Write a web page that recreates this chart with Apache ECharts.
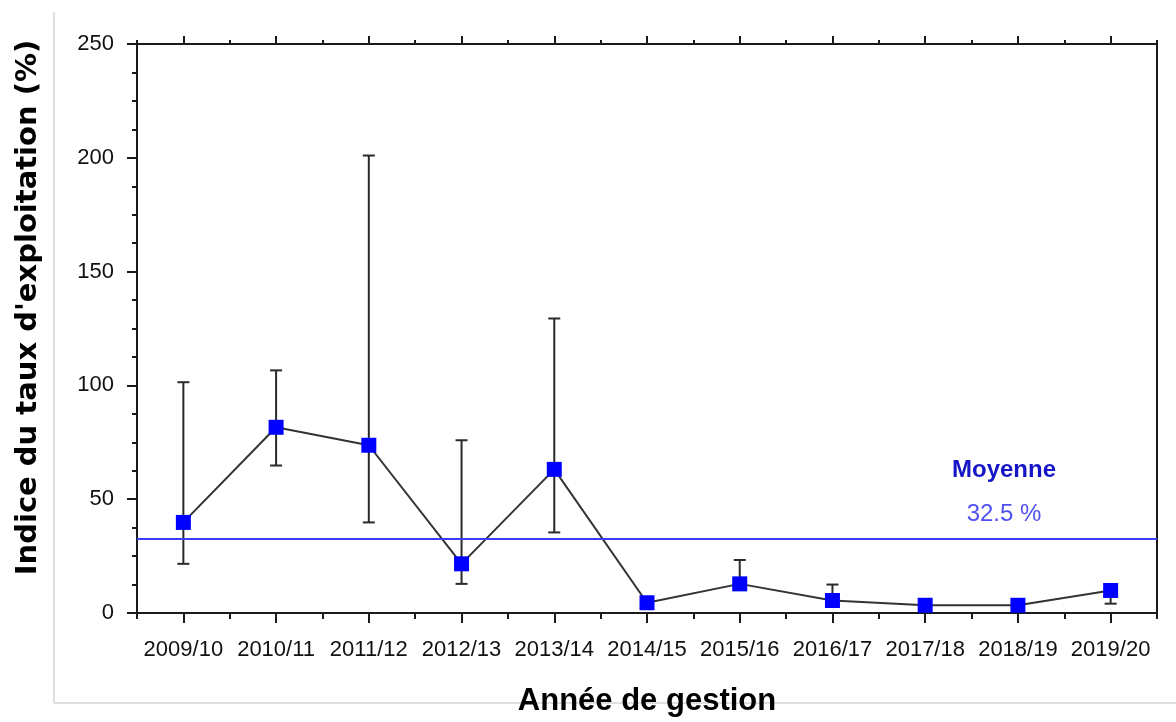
<!DOCTYPE html>
<html>
<head>
<meta charset="utf-8">
<script src="https://cdn.jsdelivr.net/npm/echarts@6/dist/echarts.min.js"></script>
<style>
  html, body { margin: 0; padding: 0; background: #ffffff; }
  #chart { width: 1176px; height: 722px; }
</style>
</head>
<body>
<div id="chart"></div>
<script>
// Management years
const years = ['2009/10', '2010/11', '2011/12', '2012/13', '2013/14', '2014/15',
               '2015/16', '2016/17', '2017/18', '2018/19', '2019/20'];
// Exploitation-rate index (%) per year
const indexValues = [39.8, 81.6, 73.7, 21.6, 63.1, 4.5, 12.8, 5.5, 3.4, 3.4, 9.9];
// Lower and upper bounds of the error bars (null = no bar drawn)
const lowerBound = [21.6, 64.8, 39.8, 12.8, 35.4, null, 10.5, 3.5, null, null, 4.1];
const upperBound = [101.4, 106.6, 201, 75.9, 129.4, null, 23.3, 12.5, null, null, 12.5];
// Mean over the whole period (%)
const meanValue = 32.5;
// Y axis ticks
const yMin = 0, yMax = 250, yStep = 50;

const errorData = years.map((y, i) => [i, lowerBound[i], upperBound[i]]);

const chart = echarts.init(document.getElementById('chart'), null, { renderer: 'canvas' });

const axisDark = '#1a1a1a';
const tickFont = { fontFamily: 'Liberation Sans, Arial, sans-serif', fontSize: 22, color: '#111111' };

const hiddenCatAxis = (position, alignWithLabel, length) => ({
  type: 'category',
  data: years,
  position: position,
  boundaryGap: true,
  axisLine: { show: position === 'top', lineStyle: { color: axisDark, width: 2 } },
  axisTick: { show: true, alignWithLabel: alignWithLabel, length: length, inside: false,
              lineStyle: { color: axisDark, width: 2 } },
  axisLabel: { show: false },
  splitLine: { show: false }
});

chart.setOption({
  backgroundColor: '#ffffff',
  animation: false,
  grid: { left: 137, right: 19, top: 44, bottom: 106, containLabel: false },
  graphic: [
    { type: 'line', shape: { x1: 54, y1: 12, x2: 54, y2: 703 },
      style: { stroke: '#d4d4d4', lineWidth: 1.5 }, silent: true },
    { type: 'line', shape: { x1: 54, y1: 703, x2: 1176, y2: 703 },
      style: { stroke: '#d4d4d4', lineWidth: 1.5 }, silent: true }
  ],
  xAxis: [
    {
      type: 'category',
      data: years,
      position: 'bottom',
      boundaryGap: true,
      name: 'Année de gestion',
      nameLocation: 'middle',
      nameGap: 73,
      nameTextStyle: { fontFamily: 'Liberation Sans, Arial, sans-serif', fontWeight: 'bold',
                       fontSize: 31, color: '#000000' },
      axisLine: { show: true, lineStyle: { color: axisDark, width: 2 } },
      axisTick: { show: true, alignWithLabel: true, length: 10, lineStyle: { color: axisDark, width: 2 } },
      axisLabel: Object.assign({ margin: 26, interval: 0 }, tickFont),
      splitLine: { show: false }
    },
    hiddenCatAxis('bottom', false, 6),
    hiddenCatAxis('top', true, 8),
    hiddenCatAxis('top', false, 4)
  ],
  yAxis: [
    {
      type: 'value',
      min: yMin,
      max: yMax,
      interval: yStep,
      position: 'left',
      name: "Indice du taux d'exploitation (%)",
      nameLocation: 'middle',
      nameGap: 94,
      nameTextStyle: { fontFamily: 'DejaVu Sans, sans-serif', fontWeight: 'bold',
                       fontSize: 29, color: '#000000', padding: [0, 0, 0, 42] },
      axisLine: { show: true, lineStyle: { color: axisDark, width: 2 } },
      axisTick: { show: true, length: 10, lineStyle: { color: axisDark, width: 2 } },
      minorTick: { show: true, splitNumber: 4, length: 5, lineStyle: { color: axisDark, width: 2 } },
      axisLabel: Object.assign({ margin: 23 }, tickFont),
      splitLine: { show: false },
      minorSplitLine: { show: false }
    },
    {
      type: 'value',
      min: yMin,
      max: yMax,
      interval: yStep,
      position: 'right',
      axisLine: { show: true, lineStyle: { color: axisDark, width: 2 } },
      axisTick: { show: false },
      axisLabel: { show: false },
      splitLine: { show: false }
    }
  ],
  series: [
    {
      name: 'Intervalle',
      type: 'custom',
      xAxisIndex: 0,
      yAxisIndex: 0,
      z: 2,
      data: errorData,
      renderItem: function (params, api) {
        const lo = api.value(1), hi = api.value(2);
        if (lo == null || hi == null || isNaN(lo) || isNaN(hi)) return;
        const idx = api.value(0);
        const pLo = api.coord([idx, lo]);
        const pHi = api.coord([idx, hi]);
        const half = 6;
        const style = { stroke: '#2a2a2a', lineWidth: 2 };
        return {
          type: 'group',
          children: [
            { type: 'line', shape: { x1: pLo[0], y1: pLo[1], x2: pHi[0], y2: pHi[1] }, style: style },
            { type: 'line', shape: { x1: pHi[0] - half, y1: pHi[1], x2: pHi[0] + half, y2: pHi[1] }, style: style },
            { type: 'line', shape: { x1: pLo[0] - half, y1: pLo[1], x2: pLo[0] + half, y2: pLo[1] }, style: style }
          ]
        };
      },
      encode: { x: 0, y: [1, 2] }
    },
    {
      name: 'Indice',
      type: 'line',
      xAxisIndex: 0,
      yAxisIndex: 0,
      z: 3,
      data: indexValues,
      symbol: 'rect',
      symbolSize: 15,
      lineStyle: { color: '#333333', width: 2 },
      itemStyle: { color: '#0000ff' },
      markLine: {
        silent: true,
        symbol: ['none', 'none'],
        lineStyle: { color: '#3c3cff', width: 2, type: 'solid' },
        data: [{ yAxis: meanValue }],
        label: {
          show: true,
          position: 'insideEndTop',
          distance: [101, 3],
          formatter: function (p) { return '{m|Moyenne}\n{v|' + p.value + ' %}'; },
          rich: {
            m: { fontFamily: 'Liberation Sans, Arial, sans-serif', fontWeight: 'bold', fontSize: 24,
                 color: '#1616c8', lineHeight: 44, align: 'center' },
            v: { fontFamily: 'Liberation Sans, Arial, sans-serif', fontSize: 24,
                 color: '#5050f0', lineHeight: 44, align: 'center' }
          }
        }
      }
    }
  ]
});
</script>
</body>
</html>
